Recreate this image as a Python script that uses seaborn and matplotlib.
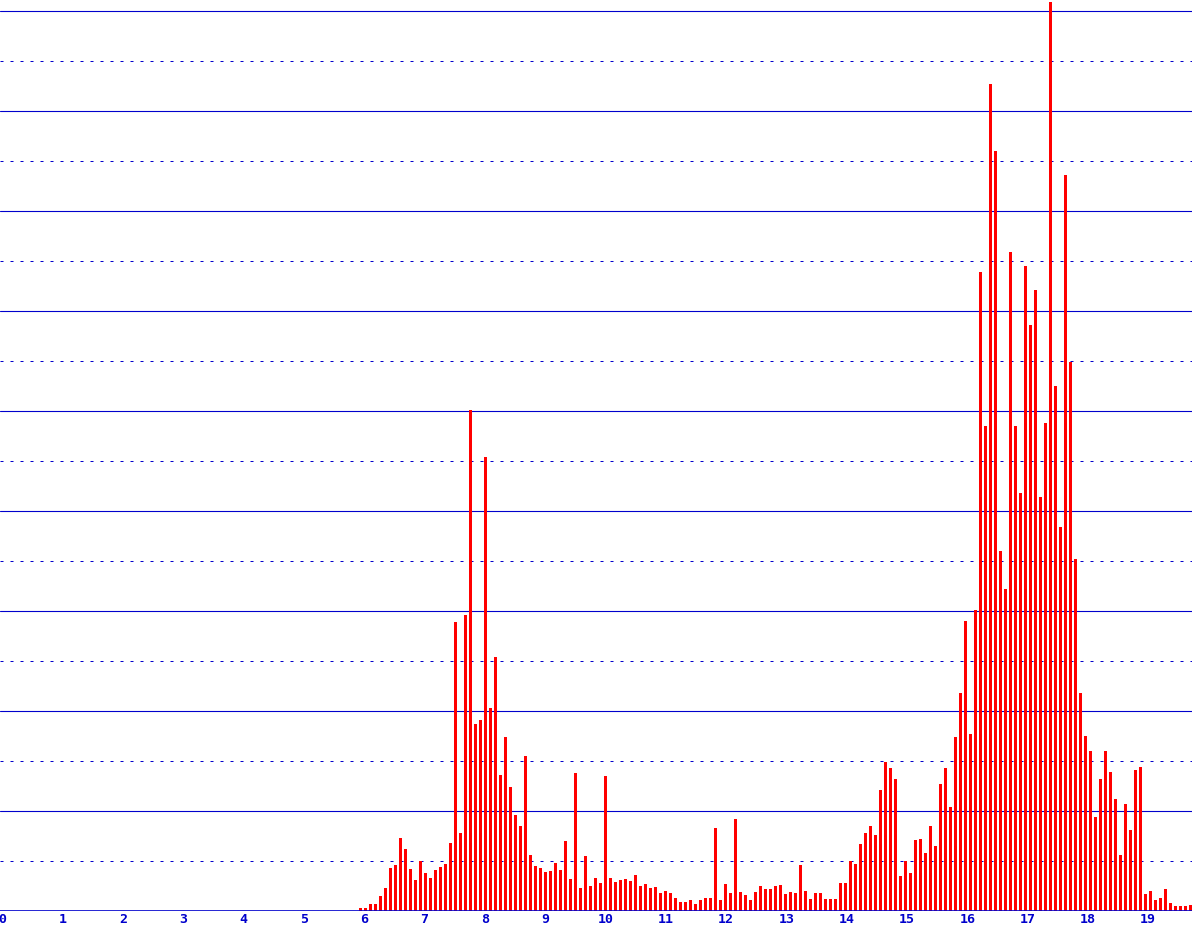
import numpy as np
import pandas as pd
import matplotlib
matplotlib.use('Agg')
import matplotlib.pyplot as plt
import seaborn as sns

# bar heights (1 unit = one solid grid step)
heights = [
    0.03, 0.03, 0.07, 0.07, 0.15, 0.23, 0.43, 0.46, 0.73, 0.62, 0.42, 0.31, 0.50, 0.38,
    0.33, 0.41, 0.44, 0.47, 0.68, 2.89, 0.78, 2.96, 5.01, 1.87, 1.91, 4.54, 2.03, 2.54,
    1.36, 1.74, 1.24, 0.96, 0.85, 1.55, 0.56, 0.45, 0.43, 0.39, 0.40, 0.48, 0.41, 0.70,
    0.32, 1.38, 0.23, 0.55, 0.25, 0.33, 0.28, 1.35, 0.33, 0.29, 0.31, 0.32, 0.30, 0.36,
    0.25, 0.27, 0.23, 0.24, 0.18, 0.20, 0.18, 0.13, 0.09, 0.09, 0.11, 0.07, 0.11, 0.13,
    0.13, 0.83, 0.11, 0.27, 0.18, 0.92, 0.19, 0.16, 0.11, 0.19, 0.25, 0.22, 0.22, 0.25,
    0.26, 0.17, 0.19, 0.18, 0.46, 0.20, 0.12, 0.18, 0.18, 0.12, 0.12, 0.12, 0.28, 0.28,
    0.50, 0.47, 0.67, 0.78, 0.85, 0.76, 1.21, 1.49, 1.43, 1.32, 0.35, 0.50, 0.38, 0.71,
    0.72, 0.58, 0.85, 0.65, 1.27, 1.43, 1.04, 1.74, 2.18, 2.90, 1.77, 3.01, 6.39, 4.85,
    8.27, 7.60,
    3.60, 3.22, 6.59, 4.85, 4.18, 6.45, 5.86, 6.21, 4.14, 4.88, 9.09, 5.25, 3.84, 7.36,
    5.49, 3.52,
    2.18, 1.75, 1.60, 0.94, 1.32, 1.60, 1.39, 1.12, 0.56, 1.07, 0.81, 1.41, 1.44, 0.17,
    0.20, 0.11, 0.13, 0.22, 0.08, 0.05, 0.05, 0.05, 0.06,
]
bin_start = 5.94
bin_step = 0.0829
tick_labels = [str(i) for i in range(20)]
solid_levels = [1, 2, 3, 4, 5, 6, 7, 8, 9]
dotted_levels = [0.5, 1.5, 2.5, 3.5, 4.5, 5.5, 6.5, 7.5, 8.5]

blue = '#0000cc'
red = '#ff0000'

df = pd.DataFrame({
    't': bin_start + bin_step * np.arange(len(heights)),
    'h': heights,
})

sns.set_style('white')
fig = plt.figure(figsize=(11.92, 9.31), dpi=100)
ax = fig.add_axes([0, 20 / 931, 1, 911 / 931])

sns.barplot(data=df, x='t', y='h', native_scale=True, width=0.5, color=red,
            saturation=1, errorbar=None, linewidth=0, antialiased=False,
            ax=ax, zorder=3)

# grid
for y in solid_levels:
    ax.axhline(y, color=blue, lw=0.8, zorder=1)
for y in dotted_levels:
    ax.axhline(y, color=blue, lw=0.72, ls=(0, (3, 7)), zorder=1)
ax.axhline(0, color=blue, lw=1.2, zorder=4)

ax.set_xlim(-0.0415, 19.726)
ax.set_ylim(0, 9.11)
ax.set_xticks(range(len(tick_labels)))
ax.set_xticklabels(tick_labels)
ax.set_yticks([])
ax.set_xlabel('')
ax.set_ylabel('')
ax.tick_params(axis='x', length=0, pad=1.5, labelcolor=blue, labelsize=9.5)
for lab in ax.get_xticklabels():
    lab.set_family('DejaVu Sans Mono')
    lab.set_fontweight('bold')
for s in ax.spines.values():
    s.set_visible(False)

fig.savefig('out.png', dpi=100)
